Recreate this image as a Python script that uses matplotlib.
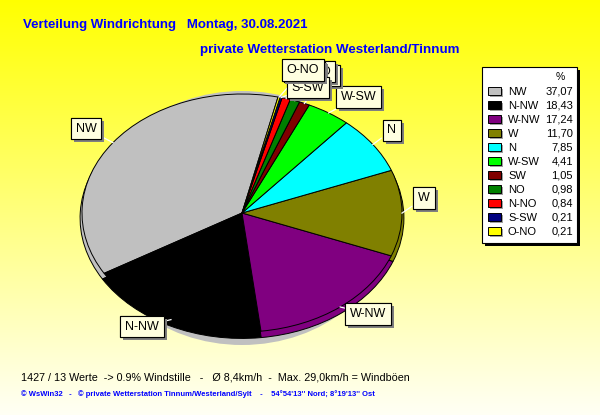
import numpy as np
import matplotlib
matplotlib.use("Agg")
import matplotlib.pyplot as plt
from matplotlib.patches import Ellipse, Rectangle
import matplotlib.patheffects as pe

# ---------------- data ----------------
directions = ["NW", "N-NW", "W-NW", "W", "N", "W-SW", "SW", "NO", "N-NO", "S-SW", "O-NO"]
percent = [37.07, 18.43, 17.24, 11.70, 7.85, 4.41, 1.05, 0.98, 0.84, 0.21, 0.21]
percent_labels = ["37,07", "18,43", "17,24", "11,70", "7,85", "4,41", "1,05", "0,98", "0,84", "0,21", "0,21"]
colors = ["#c0c0c0", "#000000", "#800080", "#808000", "#00ffff", "#00ff00",
          "#800000", "#008000", "#ff0000", "#000080", "#ffff00"]

title = "Verteilung Windrichtung   Montag, 30.08.2021"
subtitle = "private Wetterstation Westerland/Tinnum"
footer1 = "1427 / 13 Werte  -> 0.9% Windstille   -   Ø 8,4km/h  -  Max. 29,0km/h = Windböen"
footer2 = "© WsWin32   -   © private Wetterstation Tinnum/Westerland/Sylt    -    54°54'13'' Nord; 8°19'13'' Ost"

# label offsets (pixels) from the wedge edge point
label_offsets = {"NW": (-27, -14), "N-NW": (-29, 7), "W-NW": (28, 7), "W": (22, -15),
                 "N": (19, -14), "W-SW": (30, -16), "SW": (21, -28), "NO": (26, -29),
                 "N-NO": (18, -27), "S-SW": (27, -10), "O-NO": (24, -27)}

W_PX, H_PX = 600, 415
CX, CY, RX, RY = 242, 213, 160, 119
START = 77

fig = plt.figure(figsize=(6, 4.15), dpi=100)

# background gradient
bg = fig.add_axes([0, 0, 1, 1], zorder=-10)
grad = np.linspace(0, 1, 256)[:, None]
c0 = np.array([1.0, 1.0, 0.0])
c1 = np.array([1.0, 1.0, 0.96])
img = c0[None, None, :] * (1 - grad[..., None]) + c1[None, None, :] * grad[..., None]
img = np.repeat(img, 2, axis=1)
bg.imshow(img, aspect="auto", extent=[0, 1, 0, 1])
bg.axis("off")

# pie axes
ax = fig.add_axes([(CX - RX) / W_PX, (H_PX - (CY + RY)) / H_PX, 2 * RX / W_PX, 2 * RY / H_PX], zorder=1)
ax.patch.set_alpha(0)
shadow = Ellipse((0, -5 / RY), 2 * 150 / RX, 2 * 127 / RY, facecolor="#c0c0c0", edgecolor="none", zorder=0)
ax.add_patch(shadow)
wp = dict(edgecolor="black", linewidth=0.7)
side, _ = ax.pie(percent, colors=colors, startangle=START, counterclock=True,
                 radius=1.012, center=(0, -5 / RY), wedgeprops=wp)
for w in side:
    w.set_zorder(1)
top, _ = ax.pie(percent, colors=colors, startangle=START, counterclock=True,
                radius=1.0, center=(0, 0), wedgeprops=wp)
for w in top:
    w.set_zorder(2)
ax.set_aspect("auto")
ax.set_xlim(-1, 1)
ax.set_ylim(-1, 1)
ax.axis("off")
for p in ax.patches:
    p.set_clip_on(False)

# overlay axes in pixel coords
ov = fig.add_axes([0, 0, 1, 1], zorder=2)
ov.set_xlim(0, W_PX)
ov.set_ylim(H_PX, 0)
ov.axis("off")
ov.patch.set_alpha(0)

# labels
total = sum(percent)
ang = START
for name, val in zip(directions, percent):
    span = 360 * val / total
    mid = np.deg2rad(ang + span / 2)
    ang += span
    ex = CX + RX * np.cos(mid)
    ey = CY - RY * np.sin(mid)
    dx, dy = label_offsets[name]
    lx, ly = ex + dx, ey + dy
    ov.plot([ex, ex + 0.45 * dx], [ey, ey + 0.45 * dy], color="white", lw=0.9, zorder=3)
    t = ov.text(lx, ly, name, ha="center", va="center", fontsize=9, family="Liberation Sans",
                color="black", zorder=4,
                bbox=dict(boxstyle="square,pad=0.38", facecolor="#ffffe0", edgecolor="black", linewidth=0.8))
    t.get_bbox_patch().set_path_effects([pe.withSimplePatchShadow(offset=(2.2, -2.2), shadow_rgbFace="#808080", alpha=1.0), pe.Normal()])

# legend
LX0, LY0, LW, LH = 482, 67, 95, 176
ov.add_patch(Rectangle((LX0 + 3, LY0 + 3), LW, LH, facecolor="black", edgecolor="none", zorder=5))
ov.add_patch(Rectangle((LX0, LY0), LW, LH, facecolor="white", edgecolor="black", linewidth=0.8, zorder=6))
ov.text(560, 77, "%", ha="center", va="center", fontsize=7.5, family="Liberation Sans", zorder=7)
for i, (name, lab, col) in enumerate(zip(directions, percent_labels, colors)):
    y = 91.7 + 14 * i
    ov.add_patch(Rectangle((490, y - 2.5), 13, 8, facecolor="#a0a0a0", edgecolor="none", zorder=7))
    ov.add_patch(Rectangle((488, y - 4.5), 13, 8, facecolor=col, edgecolor="black", linewidth=0.7, zorder=8))
    ov.text(508, y, name, ha="left", va="center", fontsize=8, family="Liberation Sans", zorder=8)
    ov.text(573, y, lab, ha="right", va="center", fontsize=8, family="Liberation Sans", zorder=8)

# titles
ov.text(23, 25, title, ha="left", va="center", fontsize=9.5, fontweight="bold",
        family="Liberation Sans", color="#0000ff")
ov.text(200, 50, subtitle, ha="left", va="center", fontsize=9.6, fontweight="bold",
        family="Liberation Sans", color="#0000ff")
ov.text(21, 377, footer1, ha="left", va="center", fontsize=7.75, family="Liberation Sans", color="black")
ov.text(21, 394, footer2, ha="left", va="center", fontsize=5.5, fontweight="bold",
        family="Liberation Sans", color="#0000ff")

fig.savefig("out.png", dpi=100)
